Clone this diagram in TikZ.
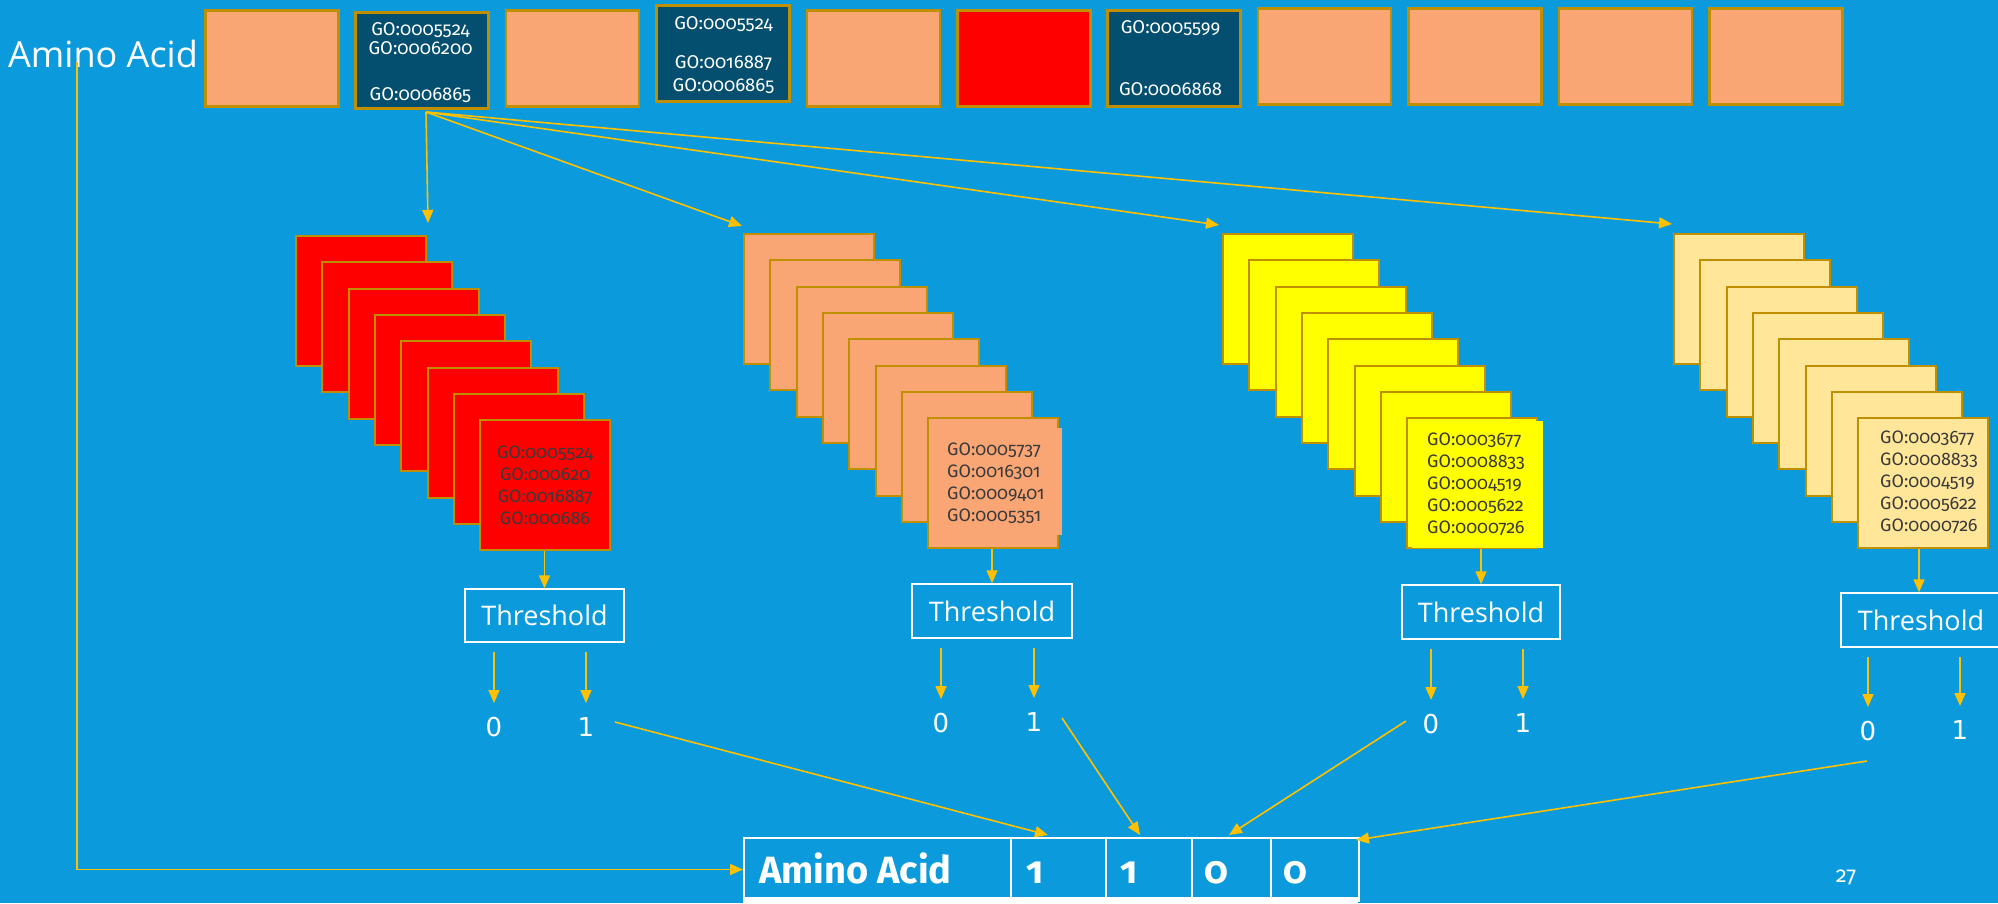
\documentclass[tikz,border=0pt]{standalone}
\usepackage{fontspec}
\setmainfont{Fira Sans}[Numbers=OldStyle]
\newfontfamily\osans{Open Sans}
\newfontfamily\dvs{DejaVu Sans}
\usetikzlibrary{arrows.meta,calc}
\definecolor{bg}{HTML}{0B9BDD}
\definecolor{salmon}{HTML}{F9A574}
\definecolor{gold}{HTML}{BF8F00}
\definecolor{navy}{HTML}{044F6F}
\definecolor{ltyel}{HTML}{FFE699}
\definecolor{yel}{HTML}{FFFF00}
\definecolor{arrowc}{HTML}{FFC000}
\definecolor{gotext}{HTML}{3A3A3A}
\tikzset{
 topbox/.style={draw=gold, line width=2.5pt, minimum width=133pt, minimum height=96pt, inner sep=0pt, anchor=north west},
 stackbox/.style={draw=gold, line width=2pt, minimum width=130pt, minimum height=130pt, inner sep=0pt, anchor=north west},
 arr/.style={draw=arrowc, line width=1.6pt, -{Triangle[width=11pt,length=13pt]}},
 thbox/.style={draw=white, line width=1.5pt, inner sep=0pt, text=white, font=\osans\fontsize{27}{30}\selectfont},
 bit/.style={text=white, inner sep=0pt, font=\dvs\fontsize{26}{28}\selectfont},
 gotop/.style={text=white, inner sep=0pt, align=center, font=\fontsize{18.5}{19}\selectfont},
 gostack/.style={text=gotext, inner sep=0pt, font=\fontsize{18}{22}\selectfont},
 cell/.style={draw=white, line width=2pt, minimum height=63pt, inner sep=0pt, anchor=north west},
 celltext/.style={text=white, inner sep=0pt, font=\bfseries\fontsize{38}{40}\selectfont},
}
\begin{document}
\begin{tikzpicture}[x=1pt,y=-1pt]
\fill[bg] (0,0) rectangle (1998,903);
\useasboundingbox (0,0) rectangle (1998,903);

% top row
\foreach \i/\y/\f in {1/9/salmon, 2/11/navy, 3/9/salmon, 4/4/navy, 5/9/salmon, 6/9/red, 7/9/navy, 8/7/salmon, 9/7/salmon, 10/7/salmon, 11/7/salmon}
  \node[topbox, fill=\f] (top\i) at ({204+150.4*(\i-1)},\y) {};
\node[gotop] (top2txt) at (420.5,62.5) {GO:0005524\\GO:0006200\\[27pt]GO:0006865};
\node[gotop, font=\fontsize{18.5}{23}\selectfont] (top4txt) at (723.5,55) {GO:0005524\\[16pt]GO:0016887\\GO:0006865};
\node[gotop] (top7txt) at (1170.5,58) {GO:0005599\\[43pt]GO:0006868};

\node[text=white, inner sep=0pt, font=\osans\fontsize{36}{40}\selectfont] (aalbl) at (103,54) {Amino Acid};

% stacks
\foreach \s/\x/\y/\f in {1/295/235/red, 2/743/233/salmon, 3/1222/233/yel, 4/1673/233/ltyel}
  \foreach \k in {1,...,8}
    \node[stackbox, fill=\f] (s\s-\k) at ({\x+26.3*(\k-1)},{\y+26.3*(\k-1)}) {};
\node[gostack, align=center] (s1txt) at (s1-8) {GO:0005524\\GO:000620\\GO:0016887\\GO:000686};
\node[fill=salmon, inner sep=0pt, minimum width=130pt, minimum height=107pt, anchor=north west] (s2ov) at (932,428) {};
\node[gostack, align=left, anchor=west] (s2txt) at (947,483) {GO:0005737\\GO:0016301\\GO:0009401\\GO:0005351};
\node[fill=yel, inner sep=0pt, minimum width=131pt, minimum height=127pt, anchor=north west] (s3ov) at (1412,421) {};
\node[gostack, align=left, anchor=west] (s3txt) at (1427,484.5) {GO:0003677\\GO:0008833\\GO:0004519\\GO:0005622\\GO:0000726};
\node[gostack, align=left, anchor=west] (s4txt) at (1880,482.5) {GO:0003677\\GO:0008833\\GO:0004519\\GO:0005622\\GO:0000726};

% arrows from the GO box
\coordinate (src) at (426,112);
\draw[arr] (src) -- ($(s1-1.north east)+(1,-12)$);
\draw[arr] (src) -- ($(s2-1.north west)+(-1,-7)$);
\draw[arr] (src) -- ($(s3-1.north west)+(-3,-8)$);
\draw[arr] (src) -- ($(s4-1.north west)+(-1,-9)$);

% thresholds
\node[thbox, minimum width=159pt, minimum height=53pt] (th1) at (544.5,615.5) {Threshold};
\node[thbox, minimum width=160pt, minimum height=54pt] (th2) at (992,611) {Threshold};
\node[thbox, minimum width=158pt, minimum height=54pt] (th3) at (1481,612) {Threshold};
\node[thbox, minimum width=160pt, minimum height=54pt] (th4) at (1921,620) {Threshold};

\draw[arr] (th1.north |- s1-8.south) -- (th1.north);
\draw[arr] (th2.north |- s2-8.south) -- (th2.north);
\draw[arr] (th3.north |- s3-8.south) -- (th3.north);
\draw[arr] ($(th4.north |- s4-8.south)+(-2,0)$) -- ($(th4.north)+(-2,0)$);

% bits
\node[bit] (z1) at (494,727) {0};
\node[bit] (o1) at (586,727) {1};
\node[bit] (z2) at (941,723) {0};
\node[bit] (o2) at (1034,722) {1};
\node[bit] (z3) at (1431,724) {0};
\node[bit] (o3) at (1523,723) {1};
\node[bit] (z4) at (1868,731) {0};
\node[bit] (o4) at (1960,730) {1};
\foreach \t/\a/\b in {1/z1/o1, 2/z2/o2, 3/z3/o3, 4/z4/o4}{
  \draw[arr] ($(th\t.south -| \a)+(0,9)$) -- ($(\a)+(0,-24)$);
  \draw[arr] ($(th\t.south -| \b)+(0,9)$) -- ($(\b)+(0,-24)$);
}

% result table
\node[cell, minimum width=267pt] (aa) at (743,837) {};
\node[cell, minimum width=95pt] (c1) at (1010,837) {};
\node[cell, minimum width=86pt] (c2) at (1105,837) {};
\node[cell, minimum width=79pt] (c3) at (1191,837) {};
\node[cell, minimum width=88pt] (c4) at (1270,837) {};
\fill[white] (743,897) rectangle (1358,903);
\node[celltext, anchor=west] (aatxt) at (759,868) {Amino Acid};
\node[celltext] (v1) at (1035,872.5) {1};
\node[celltext] (v2) at (1129,872.5) {1};
\node[celltext] (v3) at (1216,872.5) {0};
\node[celltext] (v4) at (1295,872.5) {0};

\coordinate (e1) at (1048,835);
\coordinate (e2) at (1140,835);
\coordinate (e3) at (1229,835);
\coordinate (e4) at (1356,840);
\draw[arr] ($(o1)+(29,-5)$) -- (e1);
\draw[arr] ($(o2)+(28,-4)$) -- (e2);
\draw[arr] ($(z3)+(-25,-3)$) -- (e3);
\draw[arr] ($(z4)+(-1,30)$) -- (e4);

\coordinate (lstart) at (77,62);
\draw[arr] (lstart) |- (aa.west);

\node[text=white, inner sep=0pt, font=\fontsize{22}{24}\selectfont] (pg) at (1846,877) {27};
\end{tikzpicture}
\end{document}
